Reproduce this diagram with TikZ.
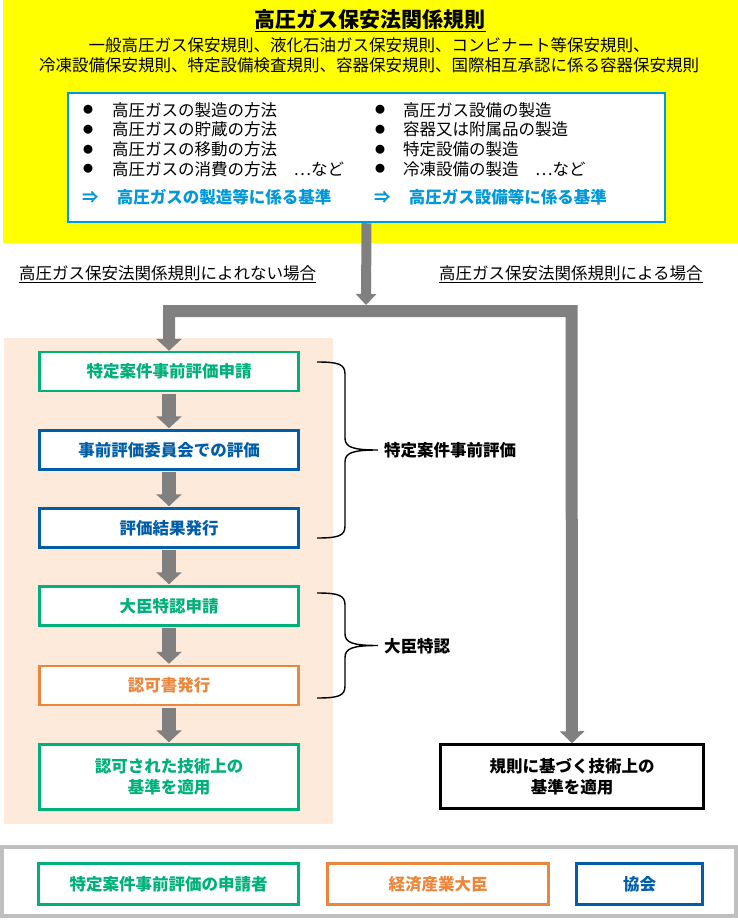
\documentclass[tikz,border=0pt]{standalone}
\usepackage{fontspec}
\setmainfont{Noto Sans CJK JP}
\usetikzlibrary{arrows.meta}

\definecolor{lawyellow}{RGB}{255,255,0}
\definecolor{peach}{RGB}{253,234,218}
\definecolor{gasgreen}{RGB}{0,176,122}
\definecolor{gasblue}{RGB}{0,94,168}
\definecolor{skyblue}{RGB}{0,152,216}
\definecolor{gasorange}{RGB}{235,135,60}
\definecolor{arrowgrey}{RGB}{128,128,128}
\definecolor{framegrey}{RGB}{191,191,191}

\newcommand{\bodysize}{\fontsize{16.5}{21}\selectfont}

\begin{document}
\begin{tikzpicture}[
		x=1pt, y=-1pt,
		flowbox/.style={draw, line width=2.5pt, fill=white, minimum width=259pt, minimum height=39pt, inner sep=0pt, align=center, font=\bodysize\bfseries},
		greenbox/.style={flowbox, draw=gasgreen, text=gasgreen},
		bluebox/.style={flowbox, draw=gasblue, text=gasblue},
		orangebox/.style={flowbox, draw=gasorange, text=gasorange},
		listitem/.style={anchor=west, inner sep=0pt, font=\bodysize},
		bulletmark/.style={inner sep=0pt, font=\fontsize{10}{10}\selectfont},
		stepline/.style={draw=arrowgrey, line width=14pt, shorten <=1.5pt, shorten >=1pt, -{Triangle[width=25pt,length=12pt]}},
		mainline/.style={draw=arrowgrey, line width=12pt, line join=miter},
		bracestroke/.style={draw=black, line width=1.4pt}
		]
		\useasboundingbox (0,0) rectangle (738,920);
		
		% Backgrounds
		\fill[lawyellow] (3,0) rectangle (738,243);
		\fill[peach] (4,338) rectangle (333,824);
		
		% Rules header
		\node[inner sep=0pt, font=\fontsize{21}{24}\selectfont\bfseries] (title) at (370,21) {\underline{高圧ガス保安法関係規則}};
		\node[inner sep=0pt, align=center, font=\fontsize{16.5}{20}\selectfont] (laws) at (369,55) {一般高圧ガス保安規則、液化石油ガス保安規則、コンビナート等保安規則、\\冷凍設備保安規則、特定設備検査規則、容器保安規則、国際相互承認に係る容器保安規則};
		
		% Box of covered items
		\node[draw=skyblue, line width=2.5pt, fill=white, minimum width=597pt, minimum height=129pt] (rules) at (366.5,157.5) {};
		
		\foreach \i/\txt in {1/高圧ガスの製造の方法, 2/高圧ガスの貯蔵の方法, 3/高圧ガスの移動の方法, 4/高圧ガスの消費の方法　…など}
		{
			\node[bulletmark] (ldot\i) at (88,{90+19.8*\i}) {●};
			\node[listitem] (litem\i) at (112,{90+19.8*\i}) {\txt};
		}
		
		\foreach \i/\txt in {1/高圧ガス設備の製造, 2/容器又は附属品の製造, 3/特定設備の製造, 4/冷凍設備の製造　…など}
		{
			\node[bulletmark] (rdot\i) at (380,{90+19.8*\i}) {●};
			\node[listitem] (ritem\i) at (403,{90+19.8*\i}) {\txt};
		}
		
		\node[listitem, text=skyblue, font=\bodysize\bfseries] (lbase) at (82,197) {⇒\hspace{1.1em}高圧ガスの製造等に係る基準};
		\node[listitem, text=skyblue, font=\bodysize\bfseries] (rbase) at (374,197) {⇒\hspace{1.1em}高圧ガス設備等に係る基準};
		
		% Branch labels
		\node[listitem] (nolabel) at (19,274) {\underline{高圧ガス保安法関係規則によれない場合}};
		\node[listitem] (yeslabel) at (439,274) {\underline{高圧ガス保安法関係規則による場合}};
		
		% Special approval steps
		\node[greenbox] (s1) at (169,371.5) {特定案件事前評価申請};
		\node[bluebox] (s2) at (169,450) {事前評価委員会での評価};
		\node[bluebox] (s3) at (169,528) {評価結果発行};
		\node[greenbox] (s4) at (169,606) {大臣特認申請};
		\node[orangebox] (s5) at (169,685.5) {認可書発行};
		\node[greenbox, minimum height=65pt] (s6) at (169,777) {認可された技術上の\\基準を適用};
		
		% Standard route
		\node[flowbox, draw=black, text=black, minimum width=263pt, minimum height=64pt] (rule) at (572,776.5) {規則に基づく技術上の\\基準を適用};
		
		% Arrows
		\coordinate (forktop) at (366,305);
		\coordinate (jl) at (169,311);
		\coordinate (jr) at (571.5,311);
		\draw[draw=arrowgrey, line width=10pt, -{Triangle[width=20pt,length=11pt]}] (rules.south) -- (forktop);
		\draw[mainline, {Triangle[width=25pt,length=12pt]}-{Triangle[width=24pt,length=12pt]}] (s1.north) -- (jl) -- (jr) -- (rule.north);
		
		\foreach \a/\b in {s1/s2, s2/s3, s3/s4, s4/s5, s5/s6}
		\draw[stepline] (\a.south) -- (\b.north);
		
		% Braces
		\foreach \ya/\yb in {362/538, 593/698}
		{
			\pgfmathsetmacro\ym{(\ya+\yb)/2}
			\draw[bracestroke] (317,\ya) .. controls (338,\ya) and (345,\ya+2) .. (345,\ya+12) -- (345,\ym-12) .. controls (345,\ym-3) and (352,\ym) .. (378,\ym) .. controls (352,\ym) and (345,\ym+3) .. (345,\ym+12) -- (345,\yb-12) .. controls (345,\yb-2) and (338,\yb) .. (317,\yb);
		}
		\node[listitem, font=\bodysize\bfseries] (prelabel) at (384,450) {特定案件事前評価};
		\node[listitem, font=\bodysize\bfseries] (ministerlabel) at (384,646) {大臣特認};
		
		% Legend
		\node[draw=framegrey, line width=4pt, minimum width=734pt, minimum height=69pt] (legend) at (369,881.5) {};
		\node[greenbox, minimum width=260pt, minimum height=41pt] (keyapplicant) at (168.5,884) {特定案件事前評価の申請者};
		\node[orangebox, minimum width=221pt, minimum height=41pt] (keyminister) at (438,884) {経済産業大臣};
		\node[bluebox, minimum width=126pt, minimum height=41pt] (keyassoc) at (639.5,884) {協会};
		
	\end{tikzpicture}
\end{document}
